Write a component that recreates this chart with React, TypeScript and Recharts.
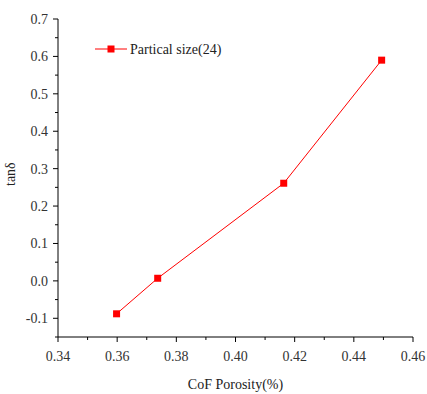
import { LineChart, Line, XAxis, YAxis } from "recharts"

const porosity = [0.3598, 0.3737, 0.4163, 0.4494]
const tanDelta = [-0.088, 0.007, 0.261, 0.59]
const seriesName = "Partical size(24)"

const xTicks = [0.34, 0.35, 0.36, 0.37, 0.38, 0.39, 0.4, 0.41, 0.42, 0.43, 0.44, 0.45, 0.46]
const xMajor = [0.34, 0.36, 0.38, 0.4, 0.42, 0.44, 0.46]
const yTicks = [-0.15, -0.1, -0.05, 0, 0.05, 0.1, 0.15, 0.2, 0.25, 0.3, 0.35, 0.4, 0.45, 0.5, 0.55, 0.6, 0.65, 0.7]
const yMajor = [-0.1, 0, 0.1, 0.2, 0.3, 0.4, 0.5, 0.6, 0.7]

const data = porosity.map((x, i) => ({ x, y: tanDelta[i] }))

const FONT = "'Liberation Serif', 'Times New Roman', serif"
const RED = "#ff0000"

const isMajor = (list: number[], v: number) => list.some((m) => Math.abs(m - v) < 1e-6)

const XTick = ({ x, y, payload }: any) => {
  const major = isMajor(xMajor, payload.value)
  return (
    <g>
      <line x1={x} x2={x} y1={y} y2={y + (major ? 5 : 3)} stroke="#000" strokeWidth={1} />
      {major && (
        <text x={x} y={y + 24} textAnchor="middle" fontFamily={FONT} fontSize={14} fill="#333">
          {payload.value.toFixed(2)}
        </text>
      )}
    </g>
  )
}

const YTick = ({ x, y, payload }: any) => {
  const major = isMajor(yMajor, payload.value)
  return (
    <g>
      <line x1={x - (major ? 5 : 3)} x2={x} y1={y} y2={y} stroke="#000" strokeWidth={1} />
      {major && (
        <text x={x - 10} y={y + 5} textAnchor="end" fontFamily={FONT} fontSize={14} fill="#333">
          {payload.value.toFixed(1)}
        </text>
      )}
    </g>
  )
}

const Square = ({ cx, cy }: any) => <rect x={cx - 3.5} y={cy - 3.5} width={7} height={7} fill={RED} />

export default function App() {
  return (
    <div style={{ position: "absolute", left: 0, top: 0, width: 427, height: 394, background: "#fff" }}>
      <LineChart width={427} height={394} data={data} margin={{ top: 19, right: 14, bottom: 27, left: 0 }}>
        <XAxis
          dataKey="x"
          type="number"
          domain={[0.34, 0.46]}
          ticks={xTicks}
          interval={0}
          height={30}
          stroke="#000"
          tickLine={false}
          tickSize={0}
          tickMargin={0}
          tick={<XTick />}
          label={{ value: "CoF Porosity(%)", position: "insideBottom", offset: -22, fontFamily: FONT, fontSize: 14, fill: "#222" }}
        />
        <YAxis
          dataKey="y"
          type="number"
          domain={[-0.15, 0.7]}
          ticks={yTicks}
          interval={0}
          width={58}
          stroke="#000"
          tickLine={false}
          tickSize={0}
          tickMargin={0}
          tick={<YTick />}
          label={{ value: "tanδ", angle: -90, position: "insideLeft", offset: 10, dy: 8, fontFamily: FONT, fontSize: 14, fill: "#222" }}
        />
        <Line
          dataKey="y"
          name={seriesName}
          stroke={RED}
          strokeWidth={1}
          dot={<Square />}
          activeDot={false}
          isAnimationActive={false}
        />
      </LineChart>
      <svg width={140} height={20} style={{ position: "absolute", left: 93, top: 39 }}>
        <line x1={2} x2={34} y1={10} y2={10} stroke={RED} strokeWidth={1} />
        <rect x={14.5} y={6.5} width={7} height={7} fill={RED} />
        <text x={37} y={15} fontFamily={FONT} fontSize={14} fill="#222">
          {seriesName}
        </text>
      </svg>
    </div>
  )
}
